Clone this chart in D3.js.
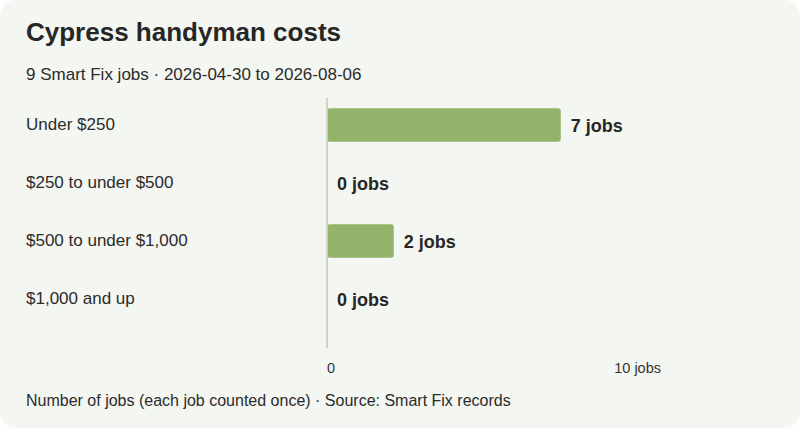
<!DOCTYPE html>
<html>
<head>
<meta charset="utf-8">
<script src="https://cdn.jsdelivr.net/npm/d3@7"></script>
<style>
  html, body { margin: 0; padding: 0; background: #ffffff; }
  svg { display: block; font-family: "Liberation Sans", Arial, sans-serif; }
</style>
</head>
<body>
<div id="graph"></div>
<script>
// chart data
var categories = ["Under $250", "$250 to under $500", "$500 to under $1,000", "$1,000 and up"];
var jobCounts = [7, 0, 2, 0];
var tickValues = [0, 10];
var tickLabels = ["0", "10 jobs"];

var width = 800,
    height = 428;

var svg = d3.select("#graph").append("svg")
    .attr("width", width)
    .attr("height", height)
    .attr("viewBox", `0 0 ${width} ${height}`);

// card background
svg.append("rect")
    .attr("x", 0).attr("y", 0)
    .attr("width", width).attr("height", height)
    .attr("rx", 16)
    .attr("fill", "#f4f6f1");

svg.append("text")
    .attr("x", 26).attr("y", 41)
    .style("font-size", "26px")
    .style("font-weight", "bold")
    .style("fill", "#262626")
    .text("Cypress handyman costs");

svg.append("text")
    .attr("x", 26).attr("y", 80)
    .style("font-size", "17px")
    .style("fill", "#2b2b2b")
    .text("9 Smart Fix jobs · 2026-04-30 to 2026-08-06");

var x = d3.scaleLinear().domain([0, 10]).range([327, 661]);
var y = d3.scaleBand().domain(categories).range([96, 328]).paddingInner(0.42).paddingOuter(0.21);

// category labels
svg.selectAll("text.cat")
    .data(categories)
    .enter().append("text")
    .attr("class", "cat")
    .attr("x", 26)
    .attr("y", function(d) { return y(d) + y.bandwidth() / 2 - 1; })
    .attr("dy", "0.35em")
    .style("font-size", "17px")
    .style("fill", "#2b2b2b")
    .text(function(d) { return d; });

// bars
svg.selectAll("rect.bar")
    .data(jobCounts)
    .enter().append("rect")
    .attr("class", "bar")
    .attr("x", x(0))
    .attr("y", function(d, i) { return y(categories[i]); })
    .attr("width", function(d) { return x(d) - x(0); })
    .attr("height", y.bandwidth())
    .attr("rx", 3)
    .attr("fill", "#94b46b");

// zero line
svg.append("line")
    .attr("x1", x(0)).attr("x2", x(0))
    .attr("y1", 98).attr("y2", 348)
    .style("stroke", "#cdd4c4")
    .style("stroke-width", 2);

// value labels
svg.selectAll("text.val")
    .data(jobCounts)
    .enter().append("text")
    .attr("class", "val")
    .attr("x", function(d) { return x(d) + 10; })
    .attr("y", function(d, i) { return y(categories[i]) + y.bandwidth() / 2 + 1; })
    .attr("dy", "0.35em")
    .style("font-size", "18px")
    .style("font-weight", "bold")
    .style("fill", "#262626")
    .text(function(d) { return d + " jobs"; });

// axis ticks
svg.selectAll("text.tick")
    .data(tickValues)
    .enter().append("text")
    .attr("class", "tick")
    .attr("x", function(d) { return x(d); })
    .attr("y", 373)
    .attr("text-anchor", function(d, i) { return i === 0 ? "start" : "end"; })
    .style("font-size", "14.5px")
    .style("fill", "#333333")
    .text(function(d, i) { return tickLabels[i]; });

svg.append("text")
    .attr("x", 26).attr("y", 406)
    .style("font-size", "16px")
    .style("fill", "#2b2b2b")
    .text("Number of jobs (each job counted once) · Source: Smart Fix records");
</script>
</body>
</html>
